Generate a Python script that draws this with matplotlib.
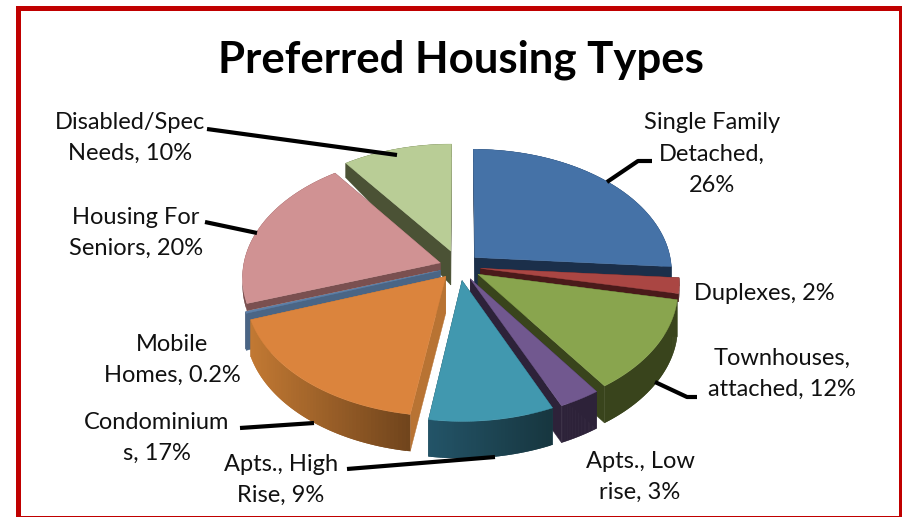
import numpy as np
import matplotlib
matplotlib.use("Agg")
import matplotlib.pyplot as plt
from matplotlib.colors import to_rgb
from matplotlib.patches import Rectangle

plt.rcParams['font.family'] = ['Lato', 'DejaVu Sans']

title = "Preferred Housing Types"
categories = ["Single Family Detached", "Duplexes", "Townhouses, attached",
              "Apts., Low rise", "Apts., High Rise", "Condominiums",
              "Mobile Homes", "Housing For Seniors", "Disabled/Spec Needs"]
values = [26, 2, 12, 3, 9, 17, 0.2, 20, 10]
explode = [0.11, 0.11, 0.115, 0.115, 0.115, 0.105, 0.10, 0.10, 0.135]
wall_scale = [1, 0.22, 1, 1, 1, 1, 1, 0.2, 1]
labels = ["Single Family\nDetached,\n26%", "Duplexes, 2%", "Townhouses,\nattached, 12%",
          "Apts., Low\nrise, 3%", "Apts., High\nRise, 9%", "Condominium\ns, 17%",
          "Mobile\nHomes, 0.2%", "Housing For\nSeniors, 20%", "Disabled/Spec\nNeeds, 10%"]

top_colors = ["#4572A7", "#AA4643", "#89A54E", "#71588F", "#4198AF",
              "#DB843D", "#5C7FA8", "#D09293", "#B9CD96"]
wall_left = ["#1B2F4A", "#4A1A1A", "#39441C", "#2D2239", "#235468",
             "#C27933", "#4F6C8E", "#7A5050", "#4B5235"]
wall_right = ["#1B2F4A", "#4A1A1A", "#39441C", "#2D2239", "#17363F",
              "#70441C", "#4F6C8E", "#7A5050", "#4B5235"]
cut_colors = ["#1B2F4A", "#4A1A1A", "#39441C", "#2D2239", "#1B3F4C",
              "#B87333", "#4A6585", "#7A5050", "#4B5235"]

# label centres, px
label_pos = [(712, 154), (764, 293), (782, 374), (640, 477), (281, 480),
             (157, 438), (172, 360), (136, 233), (130, 138)]
leaders = [[(607, 182), (638, 161), (652, 161)],
           [(655, 382), (687, 397), (697, 397)],
           [(347, 469), (495, 457)],
           [(240, 428), (314, 423)],
           [(205, 222), (257, 233)],
           [(207, 129), (397, 155)]]

cx, cy, rx, ry, k = 459, 266.5, 197, 122, 0.11


def project(u, v):
    s = 1 / (1 + k * v)
    return cx + rx * u * s, cy - ry * v * s


def depth(v, scale=1):
    # walls get thinner towards the back
    return (37 - 24 * np.clip(v, 0, 1)) * scale


fig = plt.figure(figsize=(9.02, 5.17), dpi=100)
ax = fig.add_axes([0, 0, 1, 1])
ax.set_xlim(0, 902)
ax.set_ylim(517, 0)
ax.axis('off')

frac = np.array(values) / sum(values)
starts = np.pi / 2 - 2 * np.pi * np.concatenate([[0], np.cumsum(frac)[:-1]])

# back slices first
order = [8, 0, 7, 6, 1, 5, 2, 3, 4]
for z, i in enumerate(order):
    a = np.linspace(starts[i], starts[i] - 2 * np.pi * frac[i], 60)
    mid = a.mean()
    ou, ov = explode[i] * np.cos(mid), explode[i] * np.sin(mid)
    u = ou + np.cos(a)
    v = ov + np.sin(a)
    px, py = project(u, v)
    ax0, ay0 = project(ou, ov)
    sc = wall_scale[i]
    d0 = depth(ov, sc)
    for end_x, end_y, end_v in [(px[0], py[0], v[0]), (px[-1], py[-1], v[-1])]:
        ax.fill([ax0, end_x, end_x, ax0],
                [ay0, end_y, end_y + depth(end_v, sc), ay0 + d0],
                color=cut_colors[i], lw=0.3, zorder=1 + z)
    c1, c2 = np.array(to_rgb(wall_left[i])), np.array(to_rgb(wall_right[i]))
    lo, hi = px.min(), px.max()
    for j in range(len(a) - 1):
        t = ((px[j] + px[j + 1]) / 2 - lo) / max(hi - lo, 1)
        j2 = min(j + 2, len(a) - 1)  # overlap strips so no seams show
        ax.fill([px[j], px[j2], px[j2], px[j]],
                [py[j], py[j2], py[j2] + depth(v[j2], sc), py[j] + depth(v[j], sc)],
                color=c1 + (c2 - c1) * t, lw=0, zorder=1 + z)
    ax.fill(np.r_[ax0, px], np.r_[ay0, py], color=top_colors[i], lw=0.3,
            zorder=1 + z)

for pts in leaders:
    xs, ys = zip(*pts)
    ax.plot(xs, ys, color='black', lw=3, solid_capstyle='butt', zorder=20)

for txt, (x, y) in zip(labels, label_pos):
    ax.text(x, y, txt, ha='center', va='center', fontsize=17, color='#111111',
            linespacing=1.62, zorder=30)

ax.text(461, 60, title, ha='center', va='center', fontsize=31.5, fontweight='bold',
        color='black', zorder=30)

ax.add_patch(Rectangle((17.5, 7.5), 883, 510, fill=False, edgecolor='#C00000',
                       lw=3.6, zorder=40, clip_on=True))

fig.savefig("out.png", dpi=100)
